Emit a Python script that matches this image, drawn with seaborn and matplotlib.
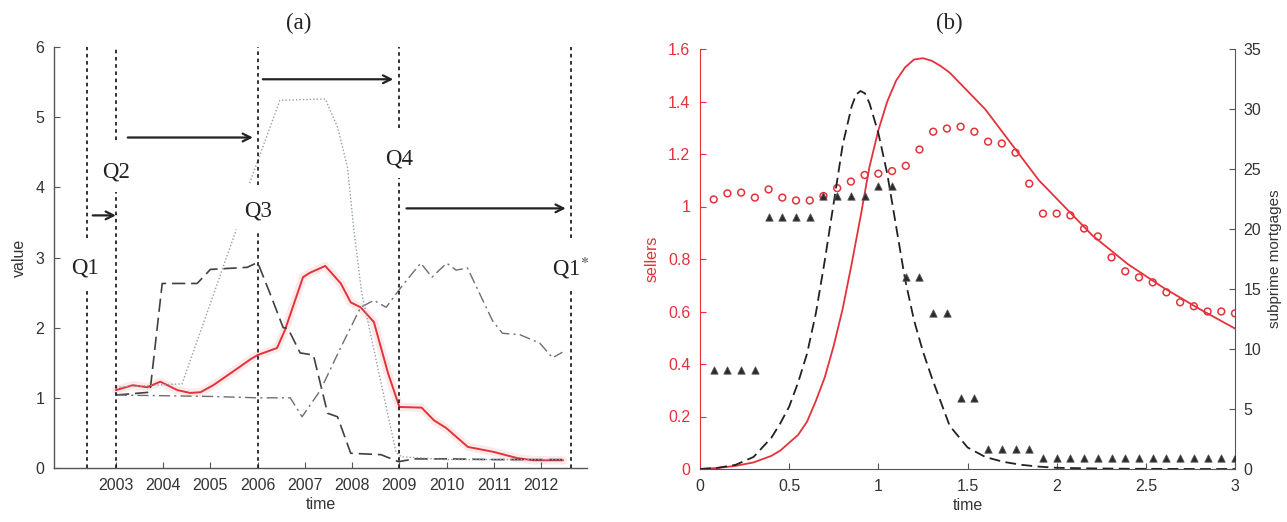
"""
Two-panel figure: (a) quarterly indicators with phase markers Q1..Q4,
(b) sellers / subprime mortgages model against data.
"""
import numpy as np
import matplotlib
matplotlib.use("Agg")
import matplotlib.pyplot as plt
from matplotlib.ticker import FuncFormatter
import seaborn as sns

# ---------------- panel (a) data ----------------
red_years = [2003.0, 2003.36, 2003.66, 2003.94, 2004.3, 2004.57, 2004.79, 2005.06,
             2005.49, 2005.85, 2006.0, 2006.41, 2006.58, 2006.96, 2007.1, 2007.43,
             2007.76, 2007.97, 2008.18, 2008.46, 2008.76, 2009.0, 2009.47, 2009.73,
             2009.99, 2010.45, 2010.99, 2011.5, 2011.84, 2012.46]
red_values = [1.11, 1.18, 1.15, 1.23, 1.11, 1.07, 1.08, 1.18,
              1.38, 1.55, 1.61, 1.71, 1.97, 2.72, 2.78, 2.88,
              2.63, 2.36, 2.29, 2.08, 1.35, 0.87, 0.86, 0.68,
              0.57, 0.30, 0.23, 0.14, 0.11, 0.11]

dashed_years = [2003.0, 2003.72, 2003.98, 2004.72, 2005.0, 2005.78, 2006.0, 2006.26,
                2006.54, 2006.64, 2006.9, 2007.18, 2007.48, 2007.69, 2007.97, 2008.61,
                2008.98, 2009.32, 2010.0, 2011.0, 2012.0, 2012.5]
dashed_values = [1.04, 1.08, 2.63, 2.63, 2.83, 2.86, 2.93, 2.49,
                 2.0, 1.99, 1.64, 1.61, 0.78, 0.73, 0.21, 0.19,
                 0.09, 0.13, 0.13, 0.12, 0.12, 0.12]

dashdot_years = [2003.0, 2004.0, 2005.0, 2006.0, 2006.69, 2006.94, 2007.33, 2007.76,
                 2008.18, 2008.46, 2008.72, 2009.04, 2009.45, 2009.69, 2010.0, 2010.2,
                 2010.44, 2010.97, 2011.18, 2011.55, 2011.97, 2012.24, 2012.45]
dashdot_values = [1.04, 1.03, 1.02, 1.0, 1.0, 0.73, 1.11, 1.72,
                  2.29, 2.39, 2.29, 2.58, 2.92, 2.72, 2.92, 2.82,
                  2.85, 2.10, 1.92, 1.90, 1.78, 1.57, 1.65]

dotted_years_1 = [2003.0, 2004.4, 2005.55]
dotted_values_1 = [1.15, 1.2, 3.4]
dotted_years_2 = [2005.83, 2006.47, 2007.43, 2007.69, 2007.9, 2008.03, 2008.2,
                  2008.93, 2009.04, 2010.0, 2011.0, 2012.5]
dotted_values_2 = [4.06, 5.24, 5.26, 4.86, 4.29, 3.43, 2.5,
                   0.22, 0.16, 0.12, 0.12, 0.12]

year_ticks = list(range(2003, 2013))

# phase markers
phase_years = [2002.39, 2003.0, 2006.0, 2009.0, 2012.64]
phase_labels = ["Q1", "Q2", "Q3", "Q4", "Q1$^{*}$"]
phase_label_x = [2002.34, 2003.0, 2006.0, 2009.0, 2012.62]
phase_label_y = [2.85, 4.22, 3.66, 4.40, 2.85]
phase_gap_lo = [2.56, 3.93, 3.39, 4.13, 2.56]
phase_gap_hi = [3.28, 4.67, 4.03, 4.84, 3.28]

arrow_y = [3.6, 4.71, 5.54, 3.7]
arrow_start = [2002.51, 2003.25, 2006.11, 2009.15]
arrow_end = [2003.0, 2005.9, 2008.87, 2012.52]

# ---------------- panel (b) data ----------------
model_t = [0.0, 0.1, 0.2, 0.3, 0.4, 0.45, 0.5, 0.55, 0.6, 0.65, 0.7, 0.75,
           0.8, 0.85, 0.875, 0.9, 0.925, 0.95, 1.0, 1.05, 1.1, 1.15, 1.2, 1.25,
           1.3, 1.35, 1.4, 1.5, 1.6, 1.7, 1.8, 1.9, 2.0, 2.2, 2.4, 2.6, 2.8, 3.0]
sellers_model = [0.0, 0.004, 0.012, 0.025, 0.05, 0.07, 0.1, 0.13, 0.18, 0.26, 0.35, 0.47,
                 0.61, 0.78, 0.87, 0.96, 1.055, 1.15, 1.29, 1.40, 1.48, 1.53, 1.56, 1.565,
                 1.555, 1.535, 1.51, 1.44, 1.37, 1.28, 1.19, 1.10, 1.03, 0.89, 0.78, 0.69,
                 0.61, 0.535]
subprime_model = [0.0, 0.1, 0.35, 1.0, 2.6, 3.8, 5.2, 7.2, 9.6, 13.0, 17.4, 22.2,
                  27.0, 30.2, 31.2, 31.5, 31.3, 30.5, 28.0, 24.6, 20.2, 15.8, 12.4, 9.8,
                  7.6, 5.6, 3.6, 1.8, 1.0, 0.6, 0.35, 0.2, 0.1, 0.05, 0.02, 0.01,
                  0.0, 0.0]

data_t = np.arange(1, 40) / 13.0   # quarterly observations on the 0..3 time scale
sellers_data = [1.027, 1.05, 1.053, 1.034, 1.065, 1.034, 1.023, 1.023, 1.04, 1.07,
                1.095, 1.12, 1.125, 1.135, 1.155, 1.217, 1.285, 1.297, 1.304, 1.285,
                1.247, 1.24, 1.205, 1.087, 0.973, 0.973, 0.966, 0.916, 0.886, 0.806,
                0.753, 0.73, 0.711, 0.673, 0.635, 0.62, 0.60, 0.60, 0.593]
subprime_data = [8.25, 8.25, 8.25, 8.25, 21.0, 21.0, 21.0, 21.0,
                 22.75, 22.75, 22.75, 22.75, 23.6, 23.6, 16.0, 16.0,
                 13.0, 13.0, 5.95, 5.95, 1.67, 1.67, 1.67, 1.67,
                 0.92, 0.92, 0.92, 0.92, 0.92, 0.92, 0.92, 0.92,
                 0.92, 0.92, 0.92, 0.92, 0.92, 0.92, 0.92]

# ---------------- style ----------------
sns.set_style("ticks")
plt.rcParams["font.family"] = ["Liberation Sans", "DejaVu Sans"]
plt.rcParams["mathtext.fontset"] = "stix"

RED = "#e4323b"
AXIS = "#555555"
TEXT = "#333333"
SERIF = ["Liberation Serif", "DejaVu Serif"]
TICK_SIZE = 11.5

fig = plt.figure(figsize=(12.87, 5.22), dpi=100)
W, H = 1287.0, 522.0
ax_a = fig.add_axes([54 / W, 54 / H, 533 / W, 421 / H])
ax_b = fig.add_axes([700 / W, 53 / H, 535 / W, 420 / H])


def g_fmt(v, _pos):
    return "%g" % v


# ---------------- panel (a) ----------------
sns.lineplot(x=red_years, y=red_values, ax=ax_a, color=RED, lw=6, alpha=0.10)
sns.lineplot(x=red_years, y=red_values, ax=ax_a, color=RED, lw=1.4)
sns.lineplot(x=dashed_years, y=dashed_values, ax=ax_a, color="#404040", lw=1.2,
             linestyle=(0, (8, 3.5)))
sns.lineplot(x=dashdot_years, y=dashdot_values, ax=ax_a, color="#6e6e6e", lw=1.0,
             linestyle=(0, (8, 3, 1.5, 3)))
for xs, ys in [(dotted_years_1, dotted_values_1), (dotted_years_2, dotted_values_2)]:
    sns.lineplot(x=xs, y=ys, ax=ax_a, color="#8fa0a8", lw=1.0, linestyle=(0, (1, 1.5)))

for x, lo, hi in zip(phase_years, phase_gap_lo, phase_gap_hi):
    ax_a.vlines(x, 0, lo, color="#222222", lw=1.3, linestyles=[(0, (2, 2))])
    ax_a.vlines(x, hi, 6, color="#222222", lw=1.3, linestyles=[(0, (2, 2))])
for lab, x, y in zip(phase_labels, phase_label_x, phase_label_y):
    ax_a.text(x, y, lab, ha="center", va="center", fontsize=16.5, family=SERIF,
              color="#222222")
for y, x0, x1 in zip(arrow_y, arrow_start, arrow_end):
    ax_a.annotate("", xy=(x1, y), xytext=(x0, y),
                  arrowprops=dict(arrowstyle="->", lw=1.6, color="#222222",
                                  shrinkA=0, shrinkB=0, mutation_scale=14))

ax_a.set_xlim(2001.69, 2012.97)
ax_a.set_ylim(0, 6)
ax_a.set_xticks(year_ticks)
ax_a.set_yticks(range(0, 7))
ax_a.set_xlabel("time", fontsize=TICK_SIZE, color=TEXT, labelpad=3)
ax_a.set_ylabel("value", fontsize=TICK_SIZE, color=TEXT, labelpad=6)
ax_a.tick_params(direction="in", length=4, width=0.8, color=AXIS,
                 labelsize=TICK_SIZE, labelcolor=TEXT, pad=7)
for side in ["top", "right"]:
    ax_a.spines[side].set_visible(False)
for side in ["left", "bottom"]:
    ax_a.spines[side].set_color(AXIS)
    ax_a.spines[side].set_linewidth(1.0)

# ---------------- panel (b) ----------------
ax_b2 = ax_b.twinx()
sns.lineplot(x=model_t, y=sellers_model, ax=ax_b, color=RED, lw=1.3)
sns.scatterplot(x=data_t, y=sellers_data, ax=ax_b, marker="o", s=24,
                facecolor="none", edgecolor=RED, linewidth=1.1, zorder=3)
sns.lineplot(x=model_t, y=subprime_model, ax=ax_b2, color="#222222", lw=1.3,
             linestyle=(0, (6, 3)))
sns.scatterplot(x=data_t, y=subprime_data, ax=ax_b2, marker="^", s=28,
                color="#2a2a2a", edgecolor="#555555", linewidth=0.6, zorder=3)

ax_b.set_xlim(0, 3)
ax_b.set_ylim(0, 1.6)
ax_b2.set_ylim(0, 35)
ax_b.set_xticks([0, 0.5, 1, 1.5, 2, 2.5, 3])
ax_b.set_yticks([0, 0.2, 0.4, 0.6, 0.8, 1.0, 1.2, 1.4, 1.6])
ax_b2.set_yticks(range(0, 36, 5))
ax_b.xaxis.set_major_formatter(FuncFormatter(g_fmt))
ax_b.yaxis.set_major_formatter(FuncFormatter(g_fmt))

ax_b.set_xlabel("time", fontsize=TICK_SIZE, color=TEXT, labelpad=3)
ax_b.set_ylabel("sellers", fontsize=TICK_SIZE, color=RED, labelpad=6)
ax_b2.set_ylabel("subprime mortgages", fontsize=11, color=TEXT, labelpad=5)

ax_b.tick_params(axis="x", direction="in", length=4, width=0.8, color=AXIS,
                 labelsize=TICK_SIZE, labelcolor=TEXT, pad=7)
ax_b.tick_params(axis="y", direction="in", length=4, width=0.8, color=RED,
                 labelsize=TICK_SIZE, labelcolor=RED, pad=7)
ax_b2.tick_params(axis="y", direction="in", length=4, width=0.8, color=AXIS,
                  labelsize=TICK_SIZE, labelcolor=TEXT, pad=6)

for side in ["top", "right"]:
    ax_b.spines[side].set_visible(False)
for side in ["top", "left", "bottom"]:
    ax_b2.spines[side].set_visible(False)
ax_b.spines["left"].set_color(RED)
ax_b.spines["bottom"].set_color(AXIS)
ax_b2.spines["right"].set_color(AXIS)

# panel titles
fig.text(299 / W, 1 - 23 / H, "(a)", ha="center", va="center", fontsize=16.5,
         family=SERIF, color="#222222")
fig.text(949 / W, 1 - 23 / H, "(b)", ha="center", va="center", fontsize=16.5,
         family=SERIF, color="#222222")

fig.savefig("out.png", dpi=100)
